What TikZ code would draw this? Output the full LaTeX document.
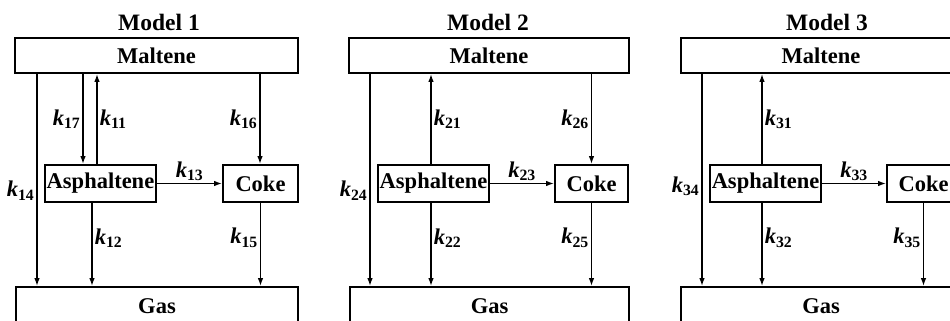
\documentclass[tikz,border=0pt]{standalone}
\usepackage{fontspec}
\setmainfont{Liberation Serif}
\usepackage{tikz}
\usetikzlibrary{arrows.meta,positioning,calc}
\newcommand{\krate}[1]{\textit{k}\textsubscript{#1}}
\tikzset{
    box/.style={rectangle, draw=black, line width=1.7pt, inner sep=0pt, font=\fontsize{22.5}{26}\selectfont\bfseries},
    title/.style={font=\fontsize{23.5}{28}\selectfont\bfseries},
    rx/.style={line width=1.5pt, -{Latex[length=8pt,width=5.5pt]}},
    rate/.style={font=\fontsize{22.5}{26}\selectfont\bfseries, inner sep=2pt},
}
\begin{document}
\begin{tikzpicture}[x=1pt, y=-1pt]
    \clip (0,0) rectangle (950,321);
    % Model 1
    \node[title] (T1) at (159,22) {Model 1};
    \node[box, minimum width=283pt, minimum height=35pt] (M1) at (156.5,55.5) {Maltene};
    \node[box, minimum width=111pt, minimum height=37pt] (A1) at (100.5,183.5) {Asphaltene};
    \node[box, minimum width=75pt, minimum height=37pt] (C1) at (260.5,183.5) {Coke};
    \node[box, minimum width=282pt, minimum height=38pt] (G1) at (157,306) {Gas};
    \coordinate (x14) at (37,0);
    \coordinate (x17) at (83,0);
    \coordinate (x11) at (97,0);
    \coordinate (x12) at (92,0);
    \coordinate (x16) at (260,0);
    \draw[rx] (M1.south -| x14) -- (G1.north -| x14) node[rate, left, pos=0.55] {\krate{14}};
    \draw[rx] (M1.south -| x17) -- (A1.north -| x17) node[rate, left, midway] {\krate{17}};
    \draw[rx] (A1.north -| x11) -- (M1.south -| x11) node[rate, right, midway] {\krate{11}};
    \draw[rx] (M1.south -| x16) -- (C1.north -| x16) node[rate, left, midway] {\krate{16}};
    \draw[rx] (A1) -- (C1) node[rate, above, midway] {\krate{13}};
    \draw[rx] (A1.south -| x12) -- (G1.north -| x12) node[rate, right, pos=0.42] {\krate{12}};
    \draw[rx] (C1.south) -- (C1.south |- G1.north) node[rate, left, pos=0.42] {\krate{15}};
    % Model 2
    \node[title] (T2) at (488,22) {Model 2};
    \node[box, minimum width=280pt, minimum height=35pt] (M2) at (489,55.5) {Maltene};
    \node[box, minimum width=111pt, minimum height=37pt] (A2) at (433.5,183.5) {Asphaltene};
    \node[box, minimum width=73pt, minimum height=37pt] (C2) at (591.5,183.5) {Coke};
    \node[box, minimum width=279pt, minimum height=38pt] (G2) at (489.5,306) {Gas};
    \coordinate (x24) at (370,0);
    \coordinate (x21) at (431,0);
    \draw[rx] (M2.south -| x24) -- (G2.north -| x24) node[rate, left, pos=0.55] {\krate{24}};
    \draw[rx] (A2.north -| x21) -- (M2.south -| x21) node[rate, right, midway] {\krate{21}};
    \draw[rx] (M2.south -| C2.north) -- (C2.north) node[rate, left, midway] {\krate{26}};
    \draw[rx] (A2) -- (C2) node[rate, above, midway] {\krate{23}};
    \draw[rx] (A2.south -| x21) -- (G2.north -| x21) node[rate, right, pos=0.42] {\krate{22}};
    \draw[rx] (C2.south) -- (C2.south |- G2.north) node[rate, left, pos=0.42] {\krate{25}};
    % Model 3
    \node[title] (T3) at (827,22) {Model 3};
    \node[box, minimum width=280pt, minimum height=35pt] (M3) at (821,55.5) {Maltene};
    \node[box, minimum width=111pt, minimum height=37pt] (A3) at (765.5,183.5) {Asphaltene};
    \node[box, minimum width=73pt, minimum height=37pt] (C3) at (923.5,183.5) {Coke};
    \node[box, minimum width=280pt, minimum height=38pt] (G3) at (821,306) {Gas};
    \coordinate (x34) at (702,0);
    \coordinate (x31) at (762,0);
    \draw[rx] (M3.south -| x34) -- (G3.north -| x34) node[rate, left, pos=0.53] {\krate{34}};
    \draw[rx] (A3.north -| x31) -- (M3.south -| x31) node[rate, right, midway] {\krate{31}};
    \draw[rx] (A3) -- (C3) node[rate, above, midway] {\krate{33}};
    \draw[rx] (A3.south -| x31) -- (G3.north -| x31) node[rate, right, pos=0.42] {\krate{32}};
    \draw[rx] (C3.south) -- (C3.south |- G3.north) node[rate, left, pos=0.42] {\krate{35}};
\end{tikzpicture}
\end{document}
